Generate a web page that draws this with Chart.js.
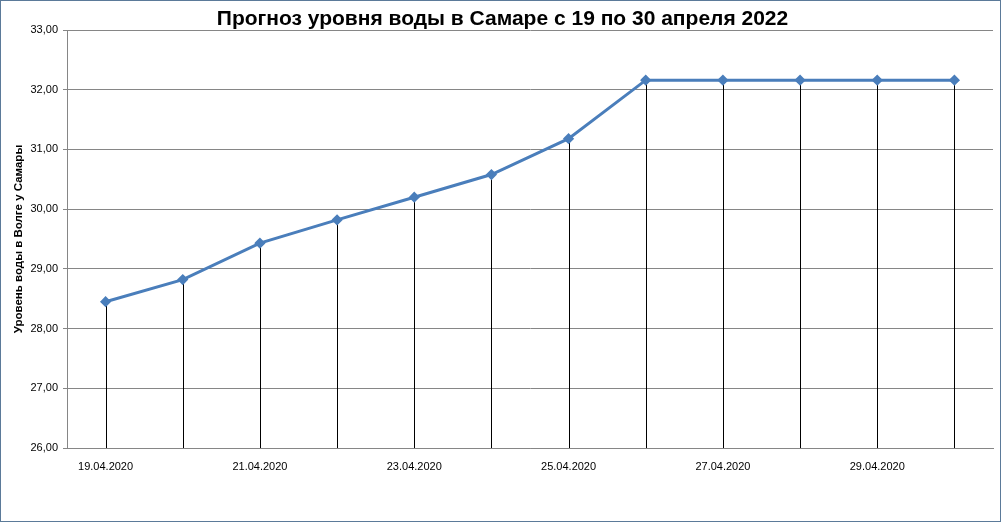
<!DOCTYPE html>
<html lang="ru">
<head>
    <meta charset="UTF-8">
    <title>Прогноз уровня воды в Самаре</title>
    <script src="https://cdn.jsdelivr.net/npm/chart.js"></script>
    <style>
        body {
            margin: 0;
            background: #fff;
        }
        #wrap {
            width: 999px;
            height: 520px;
            border: 1px solid #5b7a99;
            position: relative;
        }
    </style>
</head>
<body>
    <div id="wrap">
        <canvas id="levelChart"></canvas>
    </div>

    <script>
        const dates = ['19.04.2020', '20.04.2020', '21.04.2020', '22.04.2020', '23.04.2020', '24.04.2020',
                       '25.04.2020', '26.04.2020', '27.04.2020', '28.04.2020', '29.04.2020', '30.04.2020'];
        const levels = [28.45, 28.82, 29.43, 29.82, 30.20, 30.58, 31.18, 32.16, 32.16, 32.16, 32.16, 32.16];
        const yMin = 26;
        const yMax = 33;

        // вертикальные линии от точки до оси
        const dropLines = {
            id: 'dropLines',
            beforeDatasetsDraw(chart) {
                const ctx = chart.ctx;
                const bottom = chart.chartArea.bottom;
                const meta = chart.getDatasetMeta(0);
                ctx.save();
                ctx.strokeStyle = '#000';
                ctx.lineWidth = 1;
                meta.data.forEach(pt => {
                    const x = Math.round(pt.x) + 0.5;
                    ctx.beginPath();
                    ctx.moveTo(x, pt.y);
                    ctx.lineTo(x, bottom);
                    ctx.stroke();
                });
                ctx.restore();
            }
        };

        const ctx = document.getElementById('levelChart').getContext('2d');
        new Chart(ctx, {
            type: 'line',
            data: {
                labels: dates,
                datasets: [{
                    data: levels,
                    borderColor: '#4a7ebb',
                    backgroundColor: '#4a7ebb',
                    borderWidth: 3,
                    pointStyle: 'rectRot',
                    pointRadius: 3.5,
                    pointHoverRadius: 3.5,
                    tension: 0
                }]
            },
            options: {
                responsive: true,
                maintainAspectRatio: false,
                animation: false,
                layout: {
                    padding: { left: 11, right: 7, top: 8, bottom: 0 }
                },
                plugins: {
                    legend: { display: false },
                    tooltip: { enabled: false },
                    title: {
                        display: true,
                        text: 'Прогноз уровня воды в Самаре с 19 по 30 апреля 2022',
                        color: '#000',
                        font: { family: 'Liberation Sans', size: 21, weight: 'bold', lineHeight: 1 },
                        padding: { top: 0, bottom: 0 }
                    }
                },
                scales: {
                    x: {
                        offset: true,
                        grid: { display: false, drawTicks: false },
                        border: { color: '#868686', width: 1 },
                        ticks: {
                            autoSkip: false,
                            maxRotation: 0,
                            color: '#000',
                            padding: 12,
                            font: { family: 'Liberation Sans', size: 11 },
                            callback: function(v, i) {
                                return i % 2 === 0 ? dates[i] : '';
                            }
                        },
                        afterFit(s) { s.height = 73; }
                    },
                    y: {
                        min: yMin,
                        max: yMax,
                        grid: { color: '#868686', lineWidth: 1, tickLength: 4 },
                        border: { color: '#868686', width: 1 },
                        ticks: {
                            stepSize: 1,
                            color: '#000',
                            padding: 5,
                            font: { family: 'Liberation Sans', size: 11 },
                            callback: v => v.toFixed(2).replace('.', ',')
                        },
                        title: {
                            display: true,
                            text: 'Уровень воды в Волге у Самары',
                            color: '#000',
                            font: { family: 'Liberation Sans', size: 11.5, weight: 'bold' },
                            padding: { top: 0, bottom: 0 }
                        },
                        afterFit(s) { s.width = 55; }
                    }
                }
            },
            plugins: [dropLines]
        });
    </script>
</body>
</html>
